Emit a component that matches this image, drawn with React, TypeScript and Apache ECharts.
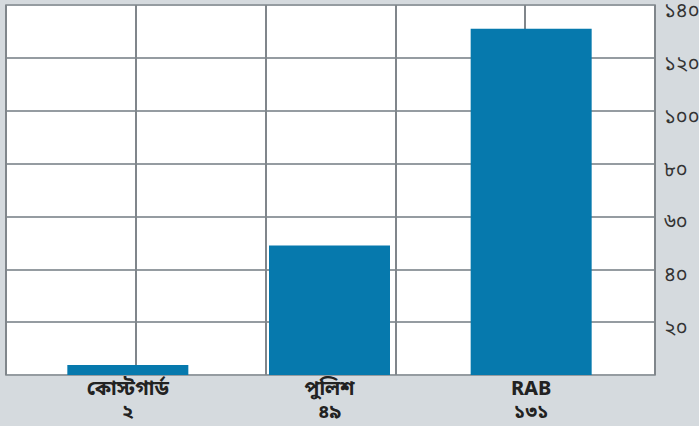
import React, { useEffect, useRef } from "react";
import * as echarts from "echarts";

const categories = ["কোস্টগার্ড", "পুলিশ", "RAB"];
const valueLabels = ["২", "৪৯", "১৩১"];
const values = [2, 49, 131];
const yTickLabels: Record<number, string> = {
  20: "২০", 40: "৪০", 60: "৬০", 80: "৮০", 100: "১০০", 120: "১২০", 140: "১৪০",
};

export default function App() {
  const ref = useRef<HTMLDivElement>(null);
  useEffect(() => {
    if (!ref.current) return;
    const chart = echarts.init(ref.current, undefined, { renderer: "svg" });
    const font = "'Noto Sans Bengali', 'Noto Sans', 'DejaVu Sans', sans-serif";
    const catLabelStyle = { fontSize: 20, lineHeight: 20, fontWeight: "bold", color: "#222222", fontFamily: font };
    chart.setOption({
      animation: false,
      backgroundColor: "#d5dade",
      textStyle: { fontFamily: font },
      grid: [
        {
          left: 6, top: 5, width: 649, height: 370, outerBoundsMode: "none", containLabel: false,
          show: true, backgroundColor: "#ffffff",
          borderColor: "#80868b", borderWidth: 1.5,
        },
        { left: 27, width: 605, top: 5, height: 370, outerBoundsMode: "none", containLabel: false },
      ],
      xAxis: [
        {
          gridIndex: 0, type: "value", min: 0, max: 5, interval: 1,
          axisLine: { show: false }, axisTick: { show: false }, axisLabel: { show: false },
          splitLine: { show: true, lineStyle: { color: "#80868b", width: 2 } },
        },
        {
          gridIndex: 1, type: "category", data: categories, position: "bottom",
          axisLine: { show: false }, axisTick: { show: false },
          axisLabel: { margin: 5, interval: 0, ...catLabelStyle },
        },
        {
          gridIndex: 1, type: "category", data: valueLabels, position: "bottom", offset: 0,
          axisLine: { show: false }, axisTick: { show: false },
          axisLabel: { margin: 29, interval: 0, ...catLabelStyle, fontSize: 19, lineHeight: 19 },
        },
      ],
      yAxis: [
        {
          gridIndex: 0, type: "value", min: 0, max: 140, interval: 20, position: "right",
          axisLine: { show: false }, axisTick: { show: false },
          axisLabel: {
            showMinLabel: false, margin: 9, color: "#333333", fontSize: 20,
            verticalAlign: "top", lineHeight: 14, fontFamily: font,
            formatter: (v: number) => yTickLabels[v] ?? "",
          },
          splitLine: { show: true, lineStyle: { color: "#959ca1", width: 2 } },
        },
        {
          gridIndex: 1, type: "value", min: 0, max: 140, interval: 20,
          axisLine: { show: false }, axisTick: { show: false }, axisLabel: { show: false },
          splitLine: { show: false },
        },
      ],
      series: [
        {
          type: "bar", xAxisIndex: 1, yAxisIndex: 1, data: values,
          barWidth: 121, barMinHeight: 10,
          itemStyle: { color: "#0679ad" },
        },
      ],
    });
    return () => chart.dispose();
  }, []);
  return <div ref={ref} style={{ width: 699, height: 426, position: "absolute", left: 0, top: 0 }} />;
}
